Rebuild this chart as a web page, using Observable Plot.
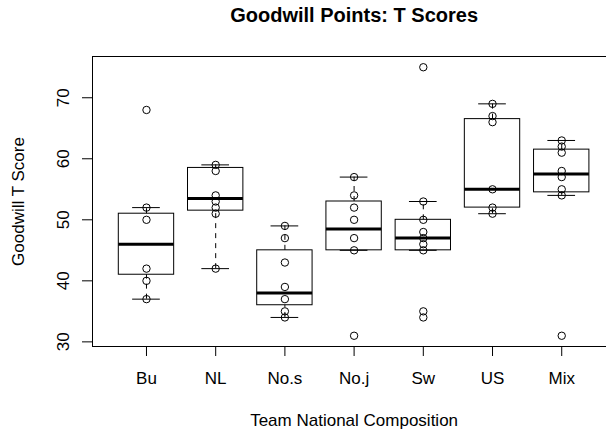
<!DOCTYPE html>
<html>
<head>
<meta charset="utf-8">
<script src="https://cdn.jsdelivr.net/npm/d3@7"></script>
<script src="https://cdn.jsdelivr.net/npm/@observablehq/plot@0.6"></script>
<style>
  html, body { margin: 0; padding: 0; background: white; }
</style>
</head>
<body>
<div id="chart"></div>
<script>
const mainTitle = "Goodwill Points: T Scores";
const xTitle = "Team National Composition";
const yTitle = "Goodwill T Score";
const categories = ["Bu", "NL", "No.s", "No.j", "Sw", "US", "Mix"];

// observed scores per team (as seen on the chart)
const buScores  = [68, 52, 50, 42, 40, 37];
const nlScores  = [59, 58, 54, 53, 52, 51, 42];
const nosScores = [49, 47, 43, 39, 37, 35, 34];
const nojScores = [57, 54, 52, 50, 47, 45, 31];
const swScores  = [75, 53, 50, 48, 47, 46, 45, 35, 34];
const usScores  = [69, 67, 66, 55, 52, 51];
const mixScores = [63, 62, 61, 58, 57, 55, 54, 31];

// box statistics
const lowerWhisker = [37, 42, 34, 45, 45, 51, 54];
const lowerHinge   = [41, 51.5, 36, 45, 45, 52, 54.5];
const medians      = [46, 53.5, 38, 48.5, 47, 55, 57.5];
const upperHinge   = [51, 58.5, 45, 53, 50, 66.5, 61.5];
const upperWhisker = [52, 59, 49, 57, 53, 69, 63];

const yTicks = [30, 40, 50, 60, 70];

const groups = [buScores, nlScores, nosScores, nojScores, swScores, usScores, mixScores];
const boxes = categories.map((c, i) => ({
  pos: i + 1, name: c,
  lo: lowerWhisker[i], q1: lowerHinge[i], med: medians[i], q3: upperHinge[i], hi: upperWhisker[i]
}));
const points = groups.flatMap((g, i) => g.map(v => ({pos: i + 1, v})));
const xPositions = categories.map((c, i) => i + 1);

const xDomain = [0.22, 7.647];
const yDomain = [29.24, 76.76];
const xCenter = (0.5 - 0.28 + categories.length + 0.5 + 0.28) / 2;
const boxHalf = 0.4, capHalf = 0.2;

const chart = Plot.plot({
  width: 606,
  height: 434,
  marginLeft: 92,
  marginRight: 0,
  marginTop: 56,
  marginBottom: 88,
  x: {type: "linear", domain: xDomain},
  y: {type: "linear", domain: yDomain},
  style: {
    fontFamily: "'Liberation Sans', Arial, Helvetica, sans-serif",
    fontSize: "17px",
    color: "black",
    background: "white"
  },
  marks: [
    Plot.ruleY(yDomain, {stroke: "black"}),
    Plot.ruleX([xDomain[0]], {stroke: "black"}),
    Plot.axisY({ticks: yTicks, tickSize: 10, tickFormat: () => "", label: null}),
    Plot.text(yTicks, {
      y: d => d, text: d => String(d), frameAnchor: "left", dx: -24,
      rotate: -90, textAnchor: "middle", lineAnchor: "bottom", fontSize: 17
    }),
    Plot.axisX({ticks: xPositions, tickFormat: d => categories[d - 1], tickSize: 10, tickPadding: 15, label: null, fontSize: 17}),
    Plot.ruleX(boxes, {x: "pos", y1: "q3", y2: "hi", stroke: "black", strokeDasharray: "5,5"}),
    Plot.ruleX(boxes, {x: "pos", y1: "lo", y2: "q1", stroke: "black", strokeDasharray: "5,5"}),
    Plot.rect(boxes, {x1: d => d.pos - boxHalf, x2: d => d.pos + boxHalf, y1: "q1", y2: "q3", stroke: "black", fill: "none"}),
    Plot.ruleY(boxes, {y: "med", x1: d => d.pos - boxHalf, x2: d => d.pos + boxHalf, stroke: "black", strokeWidth: 3}),
    Plot.ruleY(boxes, {y: "lo", x1: d => d.pos - capHalf, x2: d => d.pos + capHalf, stroke: "black"}),
    Plot.ruleY(boxes, {y: "hi", x1: d => d.pos - capHalf, x2: d => d.pos + capHalf, stroke: "black"}),
    Plot.dot(points, {x: "pos", y: "v", r: 3.7, stroke: "black", fill: "none", strokeWidth: 1}),
    Plot.text([mainTitle], {
      x: () => xCenter, text: d => d, frameAnchor: "top", dy: -35,
      lineAnchor: "bottom", fontWeight: "bold", fontSize: 20
    }),
    Plot.text([xTitle], {
      x: () => xCenter, text: d => d, frameAnchor: "bottom", dy: 79,
      lineAnchor: "bottom", fontSize: 17
    }),
    Plot.text([yTitle], {
      text: d => d, frameAnchor: "left", dx: -74, rotate: -90,
      lineAnchor: "middle", textAnchor: "middle", fontSize: 17
    })
  ]
});
document.getElementById("chart").appendChild(chart);
</script>
</body>
</html>
